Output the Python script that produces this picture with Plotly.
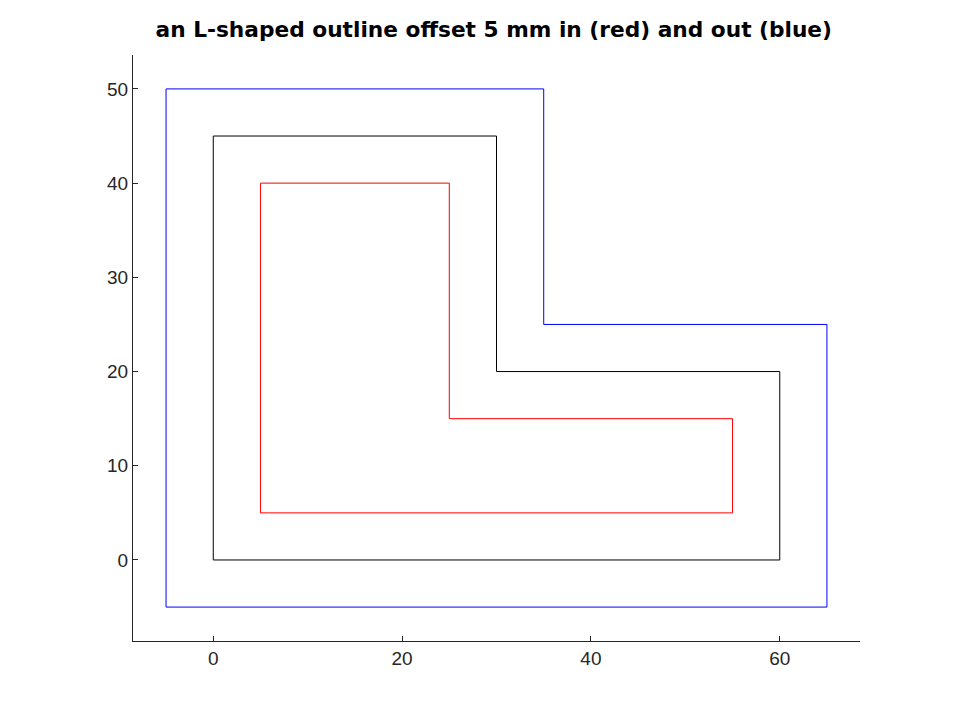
import plotly.graph_objects as go

# L-shape outline and its 5 mm offsets
base_x = [0, 60, 60, 30, 30, 0, 0]
base_y = [0, 0, 20, 20, 45, 45, 0]
inner_x = [5, 55, 55, 25, 25, 5, 5]
inner_y = [5, 5, 15, 15, 40, 40, 5]
outer_x = [-5, 65, 65, 35, 35, -5, -5]
outer_y = [-5, -5, 25, 25, 50, 50, -5]

fig = go.Figure()
for xs, ys, c in [(base_x, base_y, 'black'), (inner_x, inner_y, 'red'), (outer_x, outer_y, 'blue')]:
    fig.add_trace(go.Scatter(x=xs, y=ys, mode='lines', line=dict(color=c, width=1), showlegend=False))

axis = dict(showgrid=False, zeroline=False, showline=True, linecolor='#262626', linewidth=1,
            ticks='inside', ticklen=5, tickcolor='#262626', tickfont=dict(size=19, color='#262626'))
fig.update_xaxes(range=[-8.5, 68.5], tickvals=[0, 20, 40, 60], **axis)
fig.update_yaxes(range=[-8.6, 53.6], tickvals=[0, 10, 20, 30, 40, 50], **axis)
fig.update_layout(
    width=960, height=720,
    plot_bgcolor='white', paper_bgcolor='white',
    font=dict(family='Liberation Sans'),
    margin=dict(l=125, r=108, t=47, b=87),
    title=dict(text='<b>an L-shaped outline offset 5 mm in (red) and out (blue)</b>',
               x=0.506, xanchor='center', y=0.97, yanchor='middle',
               font=dict(family='DejaVu Sans', size=21.7, color='black')),
)
fig.write_html("out.html")
